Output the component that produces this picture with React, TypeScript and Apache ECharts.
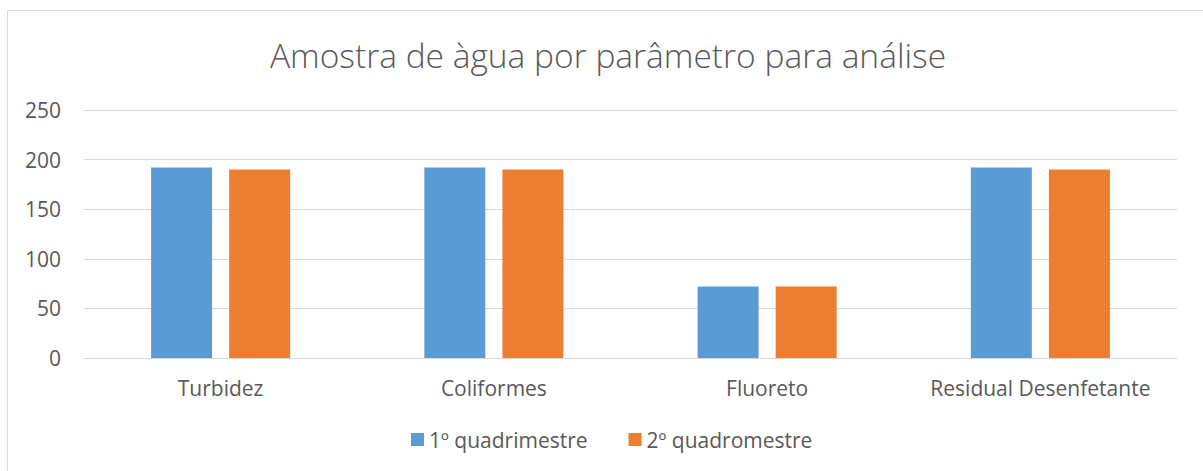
import React, { useEffect, useRef } from "react";
import * as echarts from "echarts";

const categories = ["Turbidez", "Coliformes", "Fluoreto", "Residual Desenfetante"];
const seriesNames = ["1º quadrimestre", "2º quadromestre"];
const q1Values = [192, 192, 72, 192];
const q2Values = [190, 190, 72, 190];
const titleText = "Amostra de àgua por parâmetro para análise";

const FONT = "'Open Sans', 'Noto Sans', sans-serif";
const TEXT_COLOR = "#595959";

export default function App() {
  const ref = useRef<HTMLDivElement>(null);
  useEffect(() => {
    if (!ref.current) return;
    const chart = echarts.init(ref.current, undefined, { renderer: "svg" });
    chart.setOption({
      animation: false,
      backgroundColor: "transparent",
      title: {
        text: titleText,
        left: 265,
        top: 33,
        textStyle: { fontFamily: FONT, fontSize: 33.5, fontWeight: 300, color: TEXT_COLOR },
      },
      legend: {
        bottom: 16,
        left: 406,
        itemWidth: 13,
        itemHeight: 13,
        itemGap: 41,
        icon: "rect",
        textStyle: { fontFamily: FONT, fontSize: 21, color: TEXT_COLOR },
        data: seriesNames,
      },
      grid: { left: 84, right: 26, top: 110, bottom: 113, containLabel: false },
      xAxis: {
        type: "category",
        data: categories,
        axisLine: { lineStyle: { color: "#d9d9d9", width: 1 } },
        axisTick: { show: false },
        axisLabel: { fontFamily: FONT, fontSize: 21, color: TEXT_COLOR, margin: 19, interval: 0, hideOverlap: false },
      },
      yAxis: {
        type: "value",
        min: 0,
        max: 250,
        interval: 50,
        axisLine: { show: false },
        axisTick: { show: false },
        splitLine: { lineStyle: { color: "#d9d9d9", width: 1 } },
        axisLabel: { fontFamily: FONT, fontSize: 21, color: TEXT_COLOR, margin: 23 },
      },
      series: [
        {
          name: seriesNames[0],
          type: "bar",
          data: q1Values,
          barWidth: 61,
          barGap: "28%",
          itemStyle: { color: "#5b9bd5" },
        },
        {
          name: seriesNames[1],
          type: "bar",
          data: q2Values,
          barWidth: 61,
          itemStyle: { color: "#ed7d31" },
        },
      ],
    });
    return () => chart.dispose();
  }, []);
  return (
    <div style={{ position: "absolute", left: 0, top: 0, width: 1203, height: 471, overflow: "hidden", background: "#fff" }}>
      <div style={{ position: "absolute", left: 7, top: 10, width: 1300, height: 600, border: "1px solid #d9d9d9" }} />
      <div ref={ref} style={{ position: "absolute", left: 0, top: 0, width: 1203, height: 471 }} />
    </div>
  );
}
